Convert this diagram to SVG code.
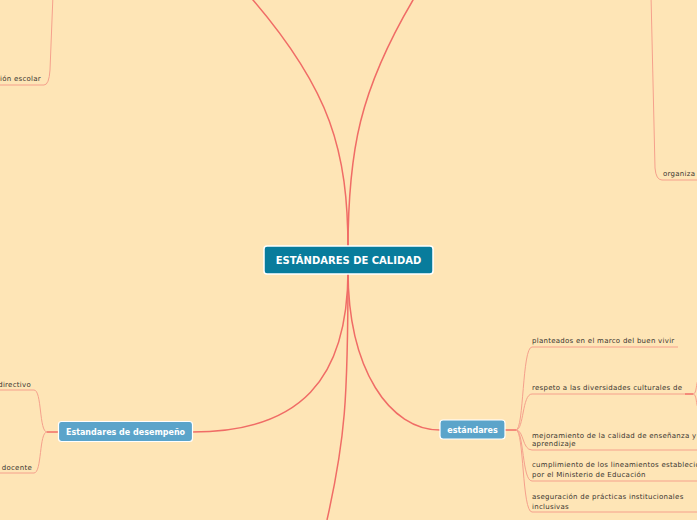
<svg xmlns="http://www.w3.org/2000/svg" width="697" height="520" viewBox="0 0 697 520">
<style>
.main{fill:none;stroke:#F06C66;stroke-width:1.5}
.sub{fill:none;stroke:#F5A08C;stroke-width:1}
.root{fill:#087C9C;stroke:#fff;stroke-width:1.5}
.sec{fill:#5BA4CA;stroke:#fff;stroke-width:1.2}
.rt{font-family:"DejaVu Sans",sans-serif;font-weight:bold;fill:#fff;font-size:10px;text-anchor:middle}
.st{font-family:"DejaVu Sans",sans-serif;font-weight:bold;fill:#fff;font-size:8px;text-anchor:middle}
.it{font-family:"DejaVu Sans",sans-serif;fill:#3a3530;font-size:7px;letter-spacing:0.27px}
</style>
<rect width="697" height="520" fill="#FEE5B6"/>
<g id="connectors">
<path class="main" d="M348,250 C348,150 330,90 253,0 L245,-9"/>
<path class="main" d="M348,250 C348,150 360,90 413,0 L418,-9"/>
<path class="main" d="M348,270 C348,380 300,432 192,432"/>
<path class="main" d="M348,270 C348,370 390,430 440,430"/>
<path class="main" d="M348,270 C348,400 345,440 327,520"/>
<path class="main" d="M505,430 L516,430"/>
<path class="sub" d="M516,430 C524,430 522,347 532,347 L678,347"/>
<path class="sub" d="M516,430 C524,430 522,394 532,394 L685,394"/>
<path class="main" d="M685,394 L693,394"/>
<path class="sub" d="M693,394 C697,394 696,382 698,381 M693,394 C697,394 696,406 698,407"/>
<path class="sub" d="M516,430 C524,430 522,450 532,450 L697,450"/>
<path class="sub" d="M516,430 C524,430 522,481 532,481 L697,481"/>
<path class="sub" d="M516,430 C524,430 522,512 532,512 L697,512"/>
<path class="main" d="M58,432 L47,432"/>
<path class="sub" d="M47,432 C39,432 42,390 34,390 L0,390"/>
<path class="sub" d="M47,432 C39,432 42,473 34,473 L0,473"/>
<path class="sub" d="M53,-5 L50,70 Q49,85 44,85 L0,85"/>
<path class="sub" d="M651,-5 L655,168 Q656,180 662,180 L697,180"/>
</g>
<g id="root">
<rect class="root" x="264" y="246" width="169" height="28" rx="3"/>
<text class="rt" x="348.5" y="263.5">ESTÁNDARES DE CALIDAD</text>
</g>
<g id="desempeno">
<rect class="sec" x="58.5" y="421.5" width="134" height="20" rx="3"/>
<text class="st" x="125.5" y="435">Estandares de desempeño</text>
</g>
<g id="estandares">
<rect class="sec" x="440" y="420" width="65" height="19" rx="3"/>
<text class="st" x="472.5" y="433">estándares</text>
</g>
<g id="items-right">
<text class="it" x="532" y="343">planteados en el marco del buen vivir</text>
<text class="it" x="532" y="390">respeto a las diversidades culturales de</text>
<text class="it" x="532" y="437.5">mejoramiento de la calidad de enseñanza y</text>
<text class="it" x="532" y="446">aprendizaje</text>
<text class="it" x="532" y="467">cumplimiento de los lineamientos establecidos</text>
<text class="it" x="532" y="477">por el Ministerio de Educación</text>
<text class="it" x="532" y="499">aseguración de prácticas institucionales</text>
<text class="it" x="532" y="508.5">inclusivas</text>
</g>
<g id="items-left">
<text class="it" x="31" y="386.5" text-anchor="end">directivo</text>
<text class="it" x="32" y="469.5" text-anchor="end">docente</text>
<text class="it" x="41" y="81" text-anchor="end">ión escolar</text>
<text class="it" x="663" y="175.5">organiza</text>
</g>
</svg>
